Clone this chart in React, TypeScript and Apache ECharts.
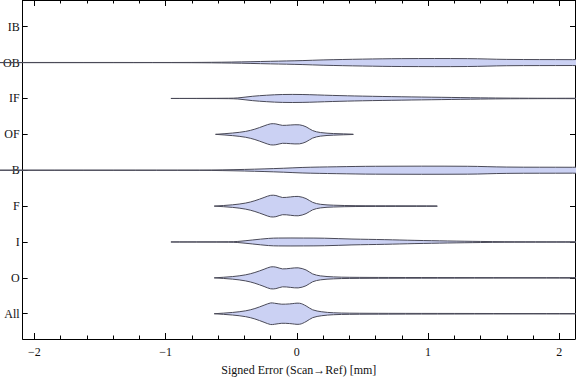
import React, { useEffect, useRef } from "react";
import * as echarts from "echarts";

// Categories from bottom (index 0) to top
const categories = ["All", "O", "I", "F", "B", "OF", "IF", "OB", "IB"];

// Violin profiles: x positions (mm) and half-widths (in category units)
const allX = [-0.63, -0.49, -0.39, -0.32, -0.25, -0.2, -0.17, -0.115, -0.055, 0.02, 0.07, 0.12, 0.19, 0.28, 0.4, 0.7, 1.2, 1.8, 2.2];
const allW = [0, 0.036, 0.082, 0.145, 0.238, 0.301, 0.293, 0.266, 0.274, 0.293, 0.219, 0.11, 0.055, 0.027, 0.016, 0.011, 0.008, 0.005, 0.005];

const oX = [-0.63, -0.49, -0.39, -0.32, -0.25, -0.2, -0.16, -0.11, -0.05, 0.01, 0.07, 0.12, 0.18, 0.28, 0.4, 0.7, 1.2, 1.8, 2.2];
const oW = [0, 0.036, 0.085, 0.15, 0.24, 0.305, 0.3, 0.25, 0.265, 0.28, 0.22, 0.11, 0.055, 0.027, 0.016, 0.011, 0.008, 0.005, 0.005];

const fX = [-0.63, -0.49, -0.39, -0.32, -0.25, -0.2, -0.16, -0.11, -0.05, 0.01, 0.07, 0.12, 0.18, 0.28, 0.45, 0.75, 1.07];
const fW = [0, 0.036, 0.085, 0.15, 0.24, 0.3, 0.295, 0.24, 0.255, 0.27, 0.21, 0.105, 0.05, 0.025, 0.012, 0.008, 0.004];

const ofX = [-0.62, -0.49, -0.39, -0.32, -0.25, -0.2, -0.16, -0.11, -0.05, 0.02, 0.07, 0.12, 0.18, 0.28, 0.43];
const ofW = [0, 0.036, 0.082, 0.145, 0.235, 0.293, 0.29, 0.25, 0.26, 0.265, 0.21, 0.105, 0.05, 0.022, 0.004];

const ifX = [-0.96, -0.7, -0.52, -0.45, -0.34, -0.23, -0.11, 0.04, 0.27, 0.5, 0.8, 1.1, 1.4, 1.63, 1.9, 2.2];
const ifW = [0, 0.003, 0.006, 0.015, 0.06, 0.09, 0.11, 0.11, 0.085, 0.065, 0.047, 0.032, 0.017, 0.009, 0.005, 0.004];

const iX = [-0.96, -0.7, -0.52, -0.45, -0.34, -0.215, -0.14, 0.05, 0.21, 0.42, 0.67, 0.9, 1.15, 1.4, 1.58, 1.9, 2.2];
const iW = [0, 0.003, 0.006, 0.015, 0.055, 0.1, 0.11, 0.11, 0.105, 0.082, 0.065, 0.045, 0.028, 0.015, 0.008, 0.005, 0.004];

const obX = [-2.3, -1.4, -0.8, -0.5, -0.2, 0.04, 0.2, 0.5, 0.8, 1.3, 1.6, 2.1, 2.3];
const obW = [0.002, 0.003, 0.004, 0.014, 0.036, 0.055, 0.074, 0.096, 0.11, 0.11, 0.088, 0.082, 0.077];

const bX = [-2.3, -1.4, -0.74, -0.4, -0.1, 0.04, 0.3, 0.6, 1.3, 1.6, 2.1, 2.3];
const bW = [0.002, 0.003, 0.004, 0.022, 0.055, 0.077, 0.096, 0.11, 0.11, 0.088, 0.082, 0.077];

const profiles: { x: number[]; w: number[] }[] = [
  { x: allX, w: allW },
  { x: oX, w: oW },
  { x: iX, w: iW },
  { x: fX, w: fW },
  { x: bX, w: bW },
  { x: ofX, w: ofW },
  { x: ifX, w: ifW },
  { x: obX, w: obW },
  { x: [], w: [] },
];

// Tick positions
const majorTicks = [-2, -1, 0, 1, 2];
const minorTicks = [-1.8, -1.6, -1.4, -1.2, -0.8, -0.6, -0.4, -0.2, 0.2, 0.4, 0.6, 0.8, 1.2, 1.4, 1.6, 1.8];
const catTicks = [0, 1, 2, 3, 4, 5, 6, 7, 8];

const FONT = "'Liberation Serif', 'DejaVu Serif', serif";

export default function App() {
  const ref = useRef<HTMLDivElement>(null);
  useEffect(() => {
    if (!ref.current) return;
    const chart = echarts.init(ref.current, undefined, { renderer: "svg" });
    const xMin = -2.09;
    const xMax = 2.12;
    const yMin = -0.704;
    const yMax = 8.744;
    const baseX = {
      type: "value",
      min: xMin,
      max: xMax,
      splitLine: { show: false },
    };
    const baseY = {
      type: "value",
      min: yMin,
      max: yMax,
      splitLine: { show: false },
    };
    chart.setOption({
      animation: false,
      grid: { left: 20, right: 1, top: 0, bottom: 32, containLabel: false },
      xAxis: [
        {
          ...baseX,
          position: "bottom",
          axisLine: { show: true, onZero: false, lineStyle: { color: "#000", width: 1 } },
          axisTick: { show: true, inside: true, length: 6, customValues: majorTicks, lineStyle: { color: "#000" } },
          axisLabel: {
            show: true,
            customValues: majorTicks,
            margin: 7,
            fontFamily: FONT,
            fontSize: 12,
            color: "#111",
            formatter: (v: number) => String(v).replace("-", "\u2212"),
          },
          name: "Signed Error (Scan\u2192Ref) [mm]",
          nameLocation: "middle",
          nameGap: 25,
          nameTextStyle: { fontFamily: FONT, fontSize: 12, color: "#111" },
        },
        {
          ...baseX,
          position: "bottom",
          axisLine: { show: false, onZero: false },
          axisTick: { show: true, inside: true, length: 3.5, customValues: minorTicks, lineStyle: { color: "#000" } },
          axisLabel: { show: false },
        },
        {
          ...baseX,
          position: "top",
          axisLine: { show: true, onZero: false, lineStyle: { color: "#000", width: 1 } },
          axisTick: { show: true, inside: true, length: 6, customValues: majorTicks, lineStyle: { color: "#000" } },
          axisLabel: { show: false },
        },
        {
          ...baseX,
          position: "top",
          axisLine: { show: false, onZero: false },
          axisTick: { show: true, inside: true, length: 3.5, customValues: minorTicks, lineStyle: { color: "#000" } },
          axisLabel: { show: false },
        },
      ],
      yAxis: [
        {
          ...baseY,
          position: "left",
          axisLine: { show: true, onZero: false, lineStyle: { color: "#000", width: 1 } },
          axisTick: { show: true, inside: true, length: 5, customValues: catTicks, lineStyle: { color: "#000" } },
          axisLabel: {
            show: true,
            customValues: catTicks,
            margin: 3,
            fontFamily: FONT,
            fontSize: 12,
            color: "#111",
            formatter: (v: number) => categories[Math.round(v)] ?? "",
          },
        },
        {
          ...baseY,
          position: "right",
          axisLine: { show: true, onZero: false, lineStyle: { color: "#000", width: 1 } },
          axisTick: { show: true, inside: true, length: 5, customValues: catTicks, lineStyle: { color: "#000" } },
          axisLabel: { show: false },
        },
      ],
      series: [
        {
          type: "custom",
          xAxisIndex: 0,
          yAxisIndex: 0,
          clip: false,
          encode: { x: 0, y: 1 },
          data: categories.map((_, i) => [0, i]),
          renderItem: (params: any, api: any) => {
            const i = params.dataIndex;
            const p = profiles[i];
            if (!p || p.x.length === 0) return { type: "group", children: [] };
            const upper = p.x.map((x, k) => api.coord([x, i + p.w[k]]));
            const lower = p.x.map((x, k) => api.coord([x, i - p.w[k]])).reverse();
            return {
              type: "polygon",
              shape: { points: upper.concat(lower), smooth: 0.35 },
              style: { fill: "#cbd1f3", stroke: "#4a4a58", lineWidth: 1 },
            };
          },
        },
      ],
    });
    return () => chart.dispose();
  }, []);
  return (
    <div
      ref={ref}
      style={{ position: "fixed", left: 0, top: 0, width: 576, height: 381, background: "#fff" }}
    />
  );
}
